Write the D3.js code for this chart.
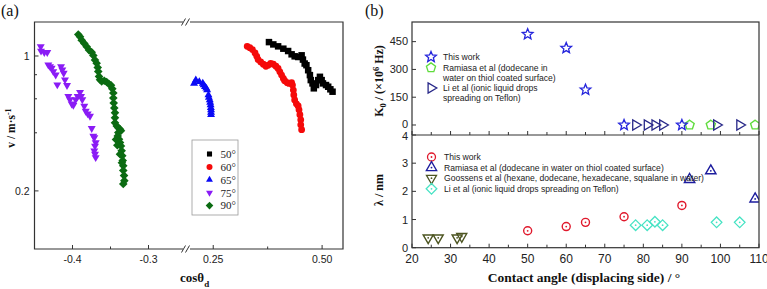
<!DOCTYPE html>
<html><head><meta charset="utf-8">
<script src="https://cdn.jsdelivr.net/npm/d3@7"></script>
<style>body{margin:0;background:#fff;} svg{display:block;}</style>
</head><body><svg id="c" width="767" height="289"></svg>
<script>
// ---------- Panel (a) data: cos(theta_d) vs v (m/s) ----------
const cos50=[0.378,0.388,0.399,0.411,0.422,0.430,0.437,0.445,0.453,0.456,0.460,0.464,0.468,0.472,0.474,0.478,0.481,0.486,0.491,0.495,0.499,0.502,0.509,0.514,0.519,0.524];
const v50=[1.180,1.148,1.122,1.091,1.061,1.020,0.996,0.988,1.008,0.958,0.914,0.896,0.844,0.796,0.750,0.721,0.680,0.707,0.750,0.780,0.750,0.721,0.707,0.693,0.672,0.653];
const cos60=[0.328,0.334,0.340,0.346,0.350,0.353,0.359,0.365,0.371,0.376,0.382,0.388,0.394,0.399,0.403,0.407,0.411,0.414,0.420,0.424,0.430,0.432,0.434,0.435,0.437,0.441,0.445,0.447,0.449,0.451,0.451,0.453];
const v60=[1.122,1.104,1.079,1.036,0.996,0.958,0.932,0.906,0.885,0.896,0.914,0.906,0.885,0.862,0.828,0.796,0.765,0.744,0.727,0.721,0.727,0.707,0.666,0.628,0.592,0.565,0.551,0.526,0.496,0.467,0.440,0.415];
const cos65=[0.206,0.210,0.218,0.226,0.228,0.231,0.234,0.236,0.239,0.240,0.242,0.243,0.244,0.2445,0.245,0.245,0.245];
const v65=[0.721,0.750,0.735,0.721,0.707,0.693,0.680,0.666,0.628,0.610,0.592,0.575,0.558,0.540,0.526,0.510,0.496];
const cos75=[-0.4418,-0.4414,-0.4371,-0.4332,-0.4318,-0.4296,-0.4274,-0.4253,-0.4221,-0.4200,-0.4151,-0.4134,-0.4116,-0.4099,-0.4072,-0.4055,-0.4033,-0.4011,-0.3989,-0.3958,-0.3932,-0.3901,-0.3888,-0.3871,-0.3845,-0.3826,-0.3800,-0.3770,-0.3747,-0.3726,-0.3713,-0.3695,-0.3704,-0.3713,-0.3704,-0.3695];
const v75=[1.118,1.061,1.045,1.045,0.899,0.882,0.865,0.831,0.799,0.710,0.882,0.847,0.815,0.753,0.705,0.618,0.594,0.565,0.556,0.594,0.618,0.649,0.618,0.594,0.550,0.518,0.502,0.488,0.422,0.385,0.378,0.356,0.342,0.323,0.310,0.298];
const cos90=[-0.3924,-0.3901,-0.3879,-0.3845,-0.3813,-0.3783,-0.3747,-0.3726,-0.3704,-0.3682,-0.3668,-0.3661,-0.3651,-0.3638,-0.3616,-0.3582,-0.3550,-0.3520,-0.3493,-0.3476,-0.3463,-0.3463,-0.3458,-0.3450,-0.3441,-0.3441,-0.3441,-0.3418,-0.3397,-0.3375,-0.3397,-0.3405,-0.3388,-0.3375,-0.3362,-0.3353,-0.3345,-0.3339,-0.3332,-0.3332,-0.3322,-0.3318,-0.3332,-0.3428,-0.3375,-0.3362,-0.3410,-0.3350];
const v90=[1.293,1.258,1.208,1.162,1.118,1.073,1.045,1.005,0.954,0.917,0.872,0.831,0.784,0.753,0.739,0.744,0.733,0.715,0.705,0.677,0.643,0.606,0.571,0.538,0.508,0.479,0.451,0.434,0.425,0.417,0.401,0.385,0.370,0.356,0.342,0.323,0.304,0.287,0.270,0.255,0.240,0.226,0.217,0.369,0.310,0.410,0.345,0.280];
const legendA=['50°','60°','65°','75°','90°'];
const xTicksA=[-0.4,-0.3,0.25,0.5];
const xTickLabelsA=['-0.4','-0.3','0.25','0.50'];
const xMinorA=[-0.35,0.375];
const yTicksA=[1,0.2];
const yTickLabelsA=['1','0.2'];
const yMinorA=[0.8,0.6,0.4];

// ---------- Panel (b) data ----------
const angleThis=[50,60,65,75,90];
const k0This=[490,415,190,0,0];
const lambdaThis=[0.6,0.75,0.9,1.1,1.5];
const angleRamiasa=[92,97.5,109];
const k0Ramiasa=[0,0,0];
const lambdaRamiasa=[2.42,2.73,1.73];
const angleLi=[78,81,83,85,99,105];
const k0Li=[0,0,0,0,0,0];
const lambdaLi=[0.8,0.8,0.92,0.8,0.9,0.9];
const angleGoossens=[24.2,26.8,31.7,32.9];
const lambdaGoossens=[0.35,0.35,0.35,0.4];
const xTicksB=[20,30,40,50,60,70,80,90,100,110];
const xMinorB=[25,35,45,55,65,75,85,95,105];
const yTicksBTop=[0,150,300,450];
const yTicksBBot=[0,1,2,3,4];
const legendBTop=[['This work'],['Ramiasa et al (dodecane in','water on thiol coated surface)'],['Li et al (ionic liquid drops','spreading on Teflon)']];
const legendBBot=['This work','Ramiasa et al (dodecane in water on thiol coated surface)','Goossens et al (hexane, dodecane, hexadecane, squalane in water)','Li et al (ionic liquid drops spreading on Teflon)'];

// ---------- helpers ----------
const svg=d3.select('#c');
const AX='#333';
const SANS='"Liberation Sans", Arial, sans-serif';
const SERIF='"Liberation Serif", "Times New Roman", serif';
function poly(n,R,startDeg){
  const pts=d3.range(n).map(i=>{const a=(startDeg+i*360/n)*Math.PI/180;return [R*Math.cos(a),R*Math.sin(a)];});
  return 'M'+pts.map(p=>p[0].toFixed(2)+','+p[1].toFixed(2)).join('L')+'Z';
}
function star(R,r){
  const pts=d3.range(10).map(i=>{const a=(-90+i*36)*Math.PI/180;const rr=i%2?r:R;return [rr*Math.cos(a),rr*Math.sin(a)];});
  return 'M'+pts.map(p=>p[0].toFixed(2)+','+p[1].toFixed(2)).join('L')+'Z';
}
function circ(r){return `M${r},0A${r},${r} 0 1,1 ${-r},0A${r},${r} 0 1,1 ${r},0Z`;}
function marks(g,xs,ys,fx,fy,d,fill,stroke,sw,dot){
  const data=d3.zip(xs,ys);
  const s=g.append('g');
  s.selectAll('path').data(data).join('path')
    .attr('transform',p=>`translate(${fx(p[0])},${fy(p[1])})`)
    .attr('d',d).attr('fill',fill).attr('stroke',stroke).attr('stroke-width',sw||0);
  if(dot){
    s.selectAll('circle').data(data).join('circle')
      .attr('cx',p=>fx(p[0])).attr('cy',p=>fy(p[1])).attr('r',0.9).attr('fill',stroke);
  }
}

// ================= Panel (a) =================
const A={l:34.5,r:343,t:22,b:249,k1:183,k2:190};
const xa1=d3.scaleLinear().domain([-0.45,-0.25]).range([34.5,186.5]);
const xa2=d3.scaleLinear().domain([0.19,0.548]).range([187.1,343]);
const xa=c=>c<0?xa1(c):xa2(c);
const ya=d3.scaleLog().domain([0.1,1.5]).range([A.b,A.t]);
const ga=svg.append('g');

// series
marks(ga,cos90,v90,xa,ya,poly(4,4.3,-90),'#0b6b12','none');
marks(ga,cos75,v75,xa,ya,poly(3,4.6,90),'#8a1cf5','none');
marks(ga,cos65,v65,xa,ya,poly(3,4.6,-90),'#0a0af5','none');
marks(ga,cos60,v60,xa,ya,circ(3.4),'#f50a0a','none');
marks(ga,cos50,v50,xa,ya,poly(4,4.6,45),'#000','none');

// frame with breaks
ga.append('path').attr('fill','none').attr('stroke',AX).attr('stroke-width',1.2)
  .attr('d',`M${A.k1},${A.t}H${A.l}V${A.b}H${A.k1}M${A.k2},${A.b}H${A.r}V${A.t}H${A.k2}`);
ga.append('path').attr('fill','none').attr('stroke',AX).attr('stroke-width',1)
  .attr('d',`M181.5,${A.t+3.5}L185.5,${A.t-3.5}M185.5,${A.t+3.5}L189.5,${A.t-3.5}M181.5,${A.b+3.5}L185.5,${A.b-3.5}M185.5,${A.b+3.5}L189.5,${A.b-3.5}`);
// x ticks
ga.selectAll('.xt').data(xTicksA).join('line').attr('x1',d=>xa(d)).attr('x2',d=>xa(d)).attr('y1',A.b).attr('y2',A.b-4).attr('stroke',AX);
ga.selectAll('.xm').data(xMinorA).join('line').attr('x1',d=>xa(d)).attr('x2',d=>xa(d)).attr('y1',A.b).attr('y2',A.b-2.5).attr('stroke',AX);
ga.selectAll('.xl').data(xTicksA).join('text').attr('x',d=>xa(d)).attr('y',263).attr('text-anchor','middle')
  .attr('font-family',SANS).attr('font-size',10.5).attr('fill','#222').text((d,i)=>xTickLabelsA[i]);
// y ticks
ga.selectAll('.yt').data(yTicksA).join('line').attr('x1',A.l).attr('x2',A.l+4).attr('y1',d=>ya(d)).attr('y2',d=>ya(d)).attr('stroke',AX);
ga.selectAll('.ym').data(yMinorA).join('line').attr('x1',A.l).attr('x2',A.l+2.5).attr('y1',d=>ya(d)).attr('y2',d=>ya(d)).attr('stroke',AX);
ga.selectAll('.yl').data(yTicksA).join('text').attr('x',29.5).attr('y',d=>ya(d)+3.8).attr('text-anchor','end')
  .attr('font-family',SANS).attr('font-size',10.5).attr('fill','#222').text((d,i)=>yTickLabelsA[i]);
// labels
const yla=ga.append('text').attr('transform','translate(15,128) rotate(-90)').attr('text-anchor','middle')
  .attr('font-family',SERIF).attr('font-weight','bold').attr('font-size',11.5).attr('fill','#111');
yla.append('tspan').text('v / m·s');
yla.append('tspan').attr('dy',-4).attr('font-size',8).text('-1');
const xla=ga.append('text').attr('x',180).attr('y',281.5)
  .attr('font-family',SERIF).attr('font-weight','bold').attr('font-size',13).attr('fill','#111');
xla.append('tspan').text('cosθ');
xla.append('tspan').attr('dy',5).attr('font-size',9).text('d');
svg.append('text').attr('x',1).attr('y',16).attr('font-family',SERIF).attr('font-size',16).attr('fill','#111').text('(a)');
// legend a
ga.append('rect').attr('x',192).attr('y',140).attr('width',46).attr('height',75).attr('fill','#fff').attr('stroke','#999').attr('stroke-width',0.8);
const legShapes=[[poly(4,3.6,45),'#000'],[circ(3),'#f50a0a'],[poly(3,4,-90),'#0a0af5'],[poly(3,4,90),'#8a1cf5'],[poly(4,3.8,-90),'#0b6b12']];
legendA.forEach((t,i)=>{
  const y=154+i*12.9;
  ga.append('path').attr('transform',`translate(209.5,${y})`).attr('d',legShapes[i][0]).attr('fill',legShapes[i][1]);
  ga.append('text').attr('x',220.5).attr('y',y+3.8).attr('font-family',SERIF).attr('font-size',11).attr('fill','#222').text(t);
});

// ================= Panel (b) =================
const B={l:412,r:759,t:22,m:135,b:247.7};
const xb=d3.scaleLinear().domain([20,110]).range([B.l,B.r]);
const ybT=d3.scaleLinear().domain([-54,556]).range([B.m,B.t]);
const ybB=d3.scaleLinear().domain([0,4]).range([B.b,B.m]);
const defs=svg.append('defs');
defs.append('clipPath').attr('id','cT').append('rect').attr('x',B.l).attr('y',B.t).attr('width',B.r-B.l).attr('height',B.m-B.t);
defs.append('clipPath').attr('id','cB').append('rect').attr('x',B.l).attr('y',B.m).attr('width',B.r-B.l).attr('height',B.b-B.m);
const gb=svg.append('g');
const gT=gb.append('g').attr('clip-path','url(#cT)');
const gB=gb.append('g').attr('clip-path','url(#cB)');

const C_STAR='#2424dc', C_PENT='#5fdc3c', C_LI='#272788', C_RED='#e0192c', C_RAM='#1d1d9e', C_GOO='#4d5522', C_DIA='#47e3c4';
const S_STAR=star(5.6,2.5), S_PENT=poly(5,4.8,-90), S_TRI_R=poly(3,5.8,0);
const S_CIRC=circ(4), S_UP=poly(3,6,-90), S_DOWN=poly(3,5.8,90), S_DIA=poly(4,5.3,-90);

marks(gT,angleRamiasa,k0Ramiasa,xb,ybT,S_PENT,'none',C_PENT,1.4);
marks(gT,angleLi,k0Li,xb,ybT,S_TRI_R,'none',C_LI,1.3);
marks(gT,angleThis,k0This,xb,ybT,S_STAR,'none',C_STAR,1.3);

marks(gB,angleThis,lambdaThis,xb,ybB,S_CIRC,'none',C_RED,1.4,true);
marks(gB,angleRamiasa,lambdaRamiasa,xb,ybB,S_UP,'none',C_RAM,1.4,true);
marks(gB,angleGoossens,lambdaGoossens,xb,ybB,S_DOWN,'none',C_GOO,1.4,true);
marks(gB,angleLi,lambdaLi,xb,ybB,S_DIA,'none',C_DIA,1.3,true);

// frame
gb.append('rect').attr('x',B.l).attr('y',B.t).attr('width',B.r-B.l).attr('height',B.b-B.t).attr('fill','none').attr('stroke',AX).attr('stroke-width',1.2);
gb.append('line').attr('x1',B.l).attr('x2',B.r).attr('y1',B.m).attr('y2',B.m).attr('stroke',AX).attr('stroke-width',1.2);
// x ticks (bottom and divider)
[B.b,B.m].forEach(yy=>{
  gb.append('g').selectAll('line').data(xTicksB.concat(xMinorB)).join('line')
    .attr('x1',d=>xb(d)).attr('x2',d=>xb(d)).attr('y1',yy).attr('y2',d=>yy-(d%10===0?4:3)).attr('stroke',AX);
});
gb.append('g').selectAll('text').data(xTicksB).join('text').attr('x',d=>xb(d)).attr('y',262.5).attr('text-anchor','middle')
  .attr('font-family',SANS).attr('font-size',12).attr('fill','#222').text(d=>d);
// y ticks
gb.append('g').selectAll('line').data(yTicksBTop).join('line').attr('x1',B.l).attr('x2',B.l+4).attr('y1',d=>ybT(d)).attr('y2',d=>ybT(d)).attr('stroke',AX);
gb.append('g').selectAll('text').data(yTicksBTop).join('text').attr('x',408).attr('y',d=>ybT(d)+3.5).attr('text-anchor','end')
  .attr('font-family',SANS).attr('font-size',11).attr('fill','#222').text(d=>d);
gb.append('g').selectAll('line').data(yTicksBBot).join('line').attr('x1',B.l).attr('x2',B.l+4).attr('y1',d=>ybB(d)).attr('y2',d=>ybB(d)).attr('stroke',AX);
gb.append('g').selectAll('text').data(yTicksBBot).join('text').attr('x',408).attr('y',d=>ybB(d)+(d===4?4.5:4)).attr('text-anchor','end')
  .attr('font-family',SANS).attr('font-size',11).attr('fill','#222').text(d=>d);
// axis titles
const ylt=gb.append('text').attr('transform','translate(383,81) rotate(-90)').attr('text-anchor','middle')
  .attr('font-family',SERIF).attr('font-weight','bold').attr('font-size',12).attr('fill','#111');
ylt.append('tspan').text('K');
ylt.append('tspan').attr('dy',3).attr('font-size',8.5).text('0');
ylt.append('tspan').attr('dy',-3).text(' / (×10');
ylt.append('tspan').attr('dy',-4).attr('font-size',8.5).text('6');
ylt.append('tspan').attr('dy',4).text(' Hz)');
gb.append('text').attr('transform','translate(383,190) rotate(-90)').attr('text-anchor','middle')
  .attr('font-family',SERIF).attr('font-weight','bold').attr('font-size',12).attr('fill','#111').text('λ / nm');
gb.append('text').attr('x',584).attr('y',281.5).attr('text-anchor','middle')
  .attr('font-family',SERIF).attr('font-weight','bold').attr('font-size',13.5).attr('fill','#111').text('Contact angle (displacing side) / °');
svg.append('text').attr('x',365).attr('y',16).attr('font-family',SERIF).attr('font-size',16).attr('fill','#111').text('(b)');

// legend top
const ltY=[57,67.7,88];
const ltS=[[S_STAR,C_STAR],[S_PENT,C_PENT],[S_TRI_R,C_LI]];
legendBTop.forEach((lines,i)=>{
  gb.append('path').attr('transform',`translate(431,${ltY[i]})`).attr('d',ltS[i][0]).attr('fill','none').attr('stroke',ltS[i][1]).attr('stroke-width',1.3);
  lines.forEach((t,j)=>{
    gb.append('text').attr('x',443).attr('y',ltY[i]+3+j*10.3).attr('font-family',SANS).attr('font-size',8.6).attr('fill','#222').text(t);
  });
});
// legend bottom
const lbS=[[S_CIRC,C_RED],[S_UP,C_RAM],[S_DOWN,C_GOO],[S_DIA,C_DIA]];
legendBBot.forEach((t,i)=>{
  const y=157+i*10.6;
  gb.append('path').attr('transform',`translate(431.5,${y})`).attr('d',lbS[i][0]).attr('fill','none').attr('stroke',lbS[i][1]).attr('stroke-width',1.3);
  gb.append('circle').attr('cx',431.5).attr('cy',y).attr('r',0.9).attr('fill',lbS[i][1]);
  gb.append('text').attr('x',444).attr('y',y+3).attr('font-family',SANS).attr('font-size',8.6).attr('fill','#222').text(t);
});
</script></body></html>
